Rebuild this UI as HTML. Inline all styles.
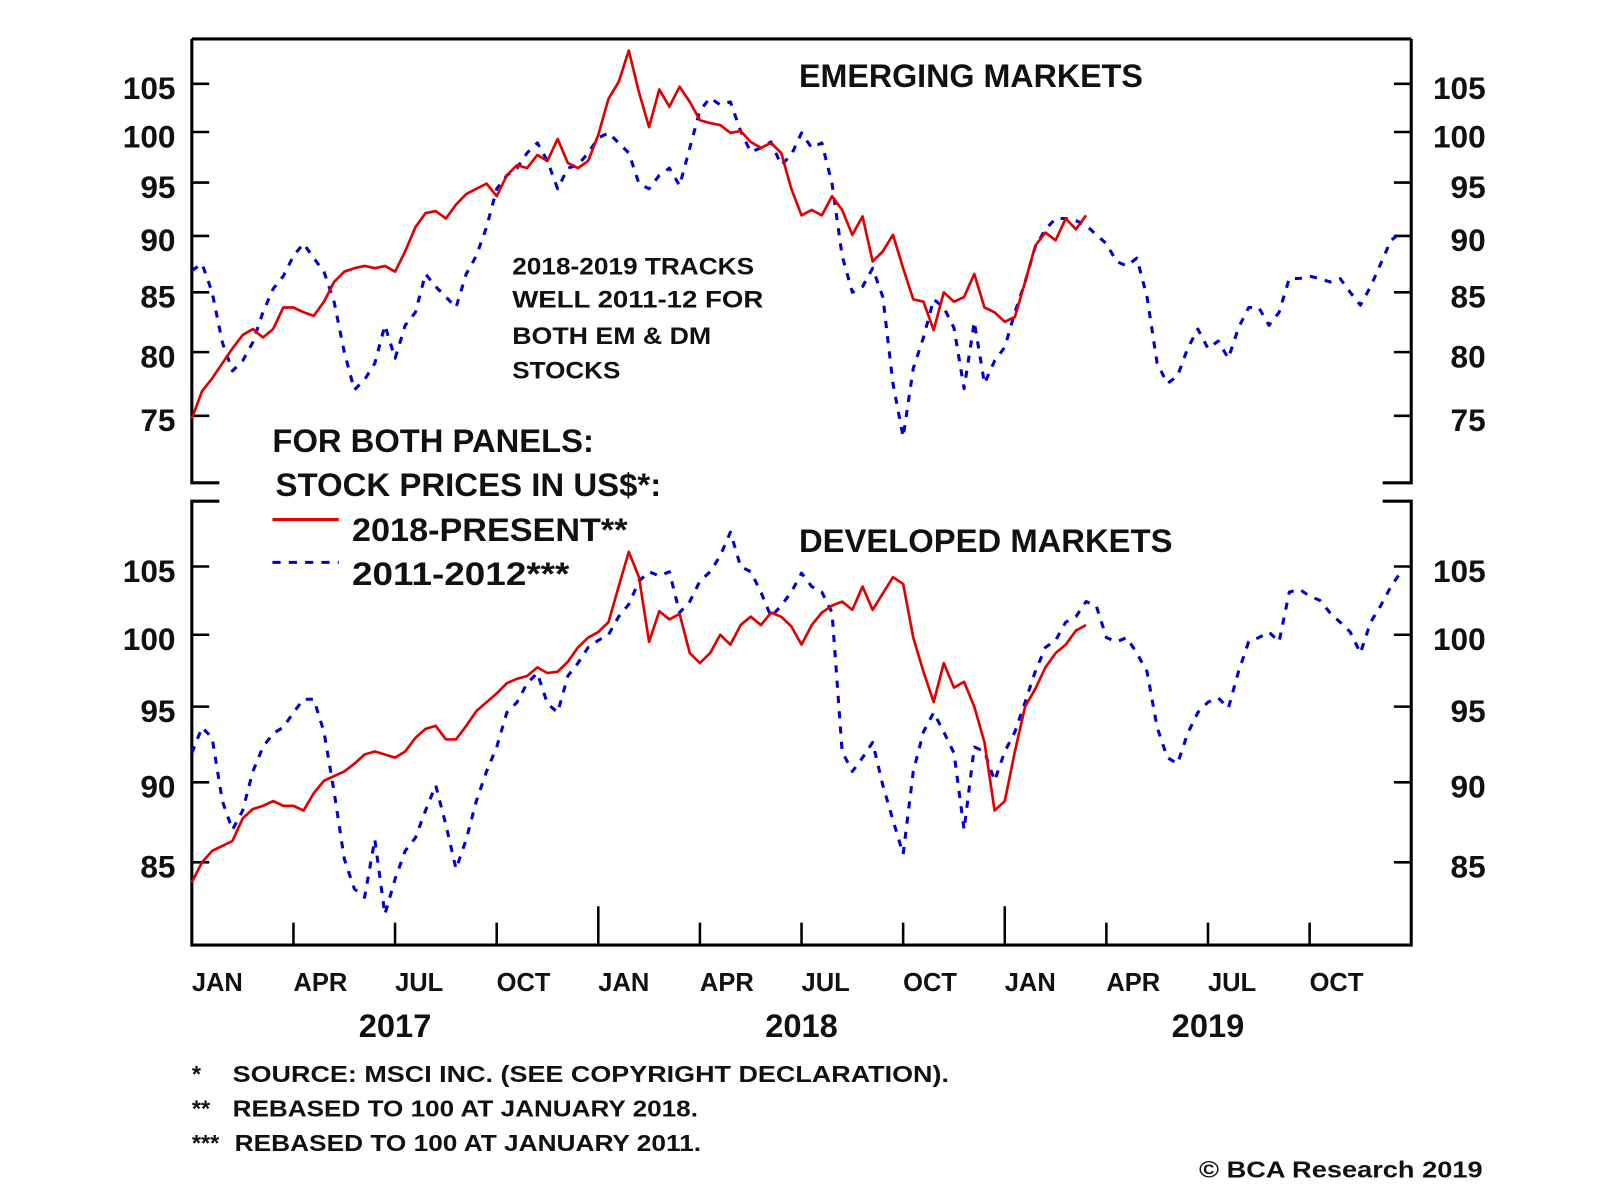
<!DOCTYPE html>
<html><head><meta charset="utf-8">
<style>
html,body{margin:0;padding:0;background:#fff;}
svg{display:block;}
text{font-family:"Liberation Sans",Arial,sans-serif;font-weight:bold;fill:#111;}
</style></head>
<body>
<svg id="chart" width="1600" height="1185" viewBox="0 0 1568 1161" xmlns="http://www.w3.org/2000/svg">
  <rect x="0" y="0" width="1568" height="1161" fill="#fff"/>
  <g id="frames" stroke="#000" stroke-width="3" fill="none">
    <path d="M188,38 L1383,38 M188,38 L188,473 L215,473 M1383,38 L1383,473 L1355,473"/>
    <path d="M215,491 L188,491 L188,926 L1383,926 L1383,491 L1355,491"/>
  </g>
  <g id="ticks" stroke="#000" stroke-width="2.5"></g>
  <g id="labels"></g>
  <g id="series"></g>

  <text x="783" y="85" font-size="32" textLength="337" lengthAdjust="spacingAndGlyphs">EMERGING MARKETS</text>
  <text x="783" y="541" font-size="32" textLength="366" lengthAdjust="spacingAndGlyphs">DEVELOPED MARKETS</text>
  <g font-size="24">
    <text x="502" y="269" textLength="237" lengthAdjust="spacingAndGlyphs">2018-2019 TRACKS</text>
    <text x="502" y="301" textLength="246" lengthAdjust="spacingAndGlyphs">WELL 2011-12 FOR</text>
    <text x="502" y="337" textLength="195" lengthAdjust="spacingAndGlyphs">BOTH EM &amp; DM</text>
    <text x="502" y="371" textLength="106" lengthAdjust="spacingAndGlyphs">STOCKS</text>
  </g>
  <g>
    <text x="267" y="443" font-size="32" textLength="315" lengthAdjust="spacingAndGlyphs">FOR BOTH PANELS:</text>
    <text x="270" y="486" font-size="32" textLength="378" lengthAdjust="spacingAndGlyphs">STOCK PRICES IN US$*:</text>
    <line x1="267" y1="509" x2="332" y2="509" stroke="#e00000" stroke-width="3"/>
    <text x="345" y="530" font-size="32" textLength="270" lengthAdjust="spacingAndGlyphs">2018-PRESENT**</text>
    <line x1="267" y1="551" x2="332" y2="551" stroke="#0000d0" stroke-width="3" stroke-dasharray="8,8"/>
    <text x="345" y="573" font-size="32" textLength="213" lengthAdjust="spacingAndGlyphs">2011-2012***</text>
  </g>
  <g font-size="23">
    <text x="188" y="1060">*</text>
    <text x="228" y="1060" textLength="702" lengthAdjust="spacingAndGlyphs">SOURCE: MSCI INC. (SEE COPYRIGHT DECLARATION).</text>
    <text x="188" y="1094">**</text>
    <text x="228" y="1094" textLength="456" lengthAdjust="spacingAndGlyphs">REBASED TO 100 AT JANUARY 2018.</text>
    <text x="188" y="1128">***</text>
    <text x="230" y="1128" textLength="457" lengthAdjust="spacingAndGlyphs">REBASED TO 100 AT JANUARY 2011.</text>
    <text x="1453" y="1154" text-anchor="end" font-size="23" textLength="278" lengthAdjust="spacingAndGlyphs">© BCA Research 2019</text>
  </g>
</svg>
<script>
// ---- data ----
const monthsPerStep = 0.3;
const emTicks = [105, 100, 95, 90, 85, 80, 75];
const dmTicks = [105, 100, 95, 90, 85];
const monthLabels = ["JAN","APR","JUL","OCT","JAN","APR","JUL","OCT","JAN","APR","JUL","OCT"];
const yearLabels = ["2017","2018","2019"];
const emRed = [74.8,76.9,77.9,79.1,80.3,81.4,81.9,81.2,81.9,83.7,83.7,83.3,83.0,84.2,85.9,86.8,87.1,87.3,87.1,87.3,86.8,88.6,90.8,92.1,92.3,91.6,92.9,93.9,94.4,94.9,93.7,95.7,96.7,96.4,97.7,97.1,99.3,96.9,96.4,97.1,99.7,103.4,105.2,108.6,104.1,100.5,104.4,102.6,104.7,103.1,101.2,100.9,100.7,99.9,100.1,99.0,98.4,98.9,97.9,94.4,91.9,92.4,91.9,93.7,92.4,90.1,91.8,87.7,88.6,90.1,87.1,84.4,84.2,81.8,85.0,84.2,84.6,86.6,83.7,83.3,82.5,82.9,85.9,89.1,90.3,89.6,91.6,90.6,91.9];
const emBlue = [86.9,87.5,85.0,80.8,78.5,79.3,80.8,83.3,85.3,86.4,88.2,89.3,88.0,86.8,84.2,80.0,77.0,77.8,79.1,82.2,79.5,82.2,83.3,86.6,85.5,84.6,83.7,86.6,88.2,90.8,94.4,95.7,96.4,97.9,98.9,97.1,94.4,96.4,96.7,97.9,99.4,99.9,98.9,97.9,94.9,94.4,95.7,96.4,94.7,98.4,102.2,103.5,102.8,103.1,100.1,98.0,98.4,99.0,96.7,97.7,99.9,98.4,98.9,94.9,88.2,85.0,85.5,87.1,84.6,77.5,73.4,78.7,81.2,84.4,83.7,82.0,77.1,82.5,77.5,79.3,80.4,83.3,85.9,89.0,90.6,91.6,91.6,91.4,91.0,90.1,89.3,87.7,87.3,88.0,84.6,79.1,77.5,78.1,80.3,81.9,80.3,80.9,79.5,82.0,83.7,83.7,82.2,83.3,86.2,86.2,86.4,86.2,85.9,86.2,85.0,83.9,85.5,87.5,89.6,90.3];
const dmRed = [83.8,85.0,85.7,86.0,86.3,87.7,88.3,88.5,88.8,88.5,88.5,88.2,89.3,90.1,90.4,90.7,91.2,91.8,92.0,91.8,91.6,92.0,92.9,93.5,93.7,92.8,92.8,93.7,94.7,95.3,95.9,96.6,96.9,97.1,97.7,97.3,97.4,98.1,99.1,99.8,100.2,100.9,103.5,106.1,104.2,99.5,101.7,101.1,101.5,98.7,98.0,98.7,100.0,99.3,100.7,101.3,100.7,101.6,101.3,100.6,99.3,100.7,101.6,102.1,102.4,101.8,103.5,101.8,103.0,104.2,103.7,99.8,97.4,95.3,98.0,96.3,96.7,95.0,92.6,88.2,88.8,92.0,95.0,96.2,97.7,98.7,99.3,100.3,100.7];
const dmBlue = [91.9,93.6,92.9,88.8,87.0,88.2,90.7,92.3,93.2,93.6,94.6,95.5,95.5,93.3,89.4,85.2,83.4,82.9,86.4,81.9,84.0,85.7,86.5,88.2,89.8,87.3,84.6,86.4,88.8,90.7,92.3,94.6,95.3,96.6,97.3,95.2,94.6,97.1,98.0,99.1,99.6,100.0,101.3,102.2,103.9,104.6,104.3,104.6,101.6,102.4,103.9,104.6,105.8,107.6,105.0,104.6,103.1,101.3,102.1,103.1,104.5,103.5,103.1,101.6,92.0,90.7,91.6,92.6,89.8,87.6,85.5,90.7,93.3,94.6,93.3,91.9,87.0,92.3,92.0,90.1,92.0,93.3,95.3,97.4,99.1,99.6,100.9,101.3,102.4,102.1,99.8,99.5,99.8,98.7,97.4,93.6,91.6,91.2,93.2,94.6,95.3,95.6,94.9,97.4,99.5,99.8,100.2,99.5,103.1,103.3,102.8,102.5,101.6,100.9,100.2,98.7,100.9,102.1,103.5,104.6];

// ---- scales ----
const X0 = 188, X1 = 1383, TOTAL_MONTHS = 36;
function xScale(m){ return X0 + (X1 - X0) * m / TOTAL_MONTHS; }
function emY(v){ return 82 + (Math.log(105) - Math.log(v)) * 967; }
function dmY(v){ return 555 + (Math.log(105) - Math.log(v)) * 1372; }
const NS = "http://www.w3.org/2000/svg";
function mk(tag, attrs, parent){ const e=document.createElementNS(NS,tag); for(const k in attrs) e.setAttribute(k,attrs[k]); parent.appendChild(e); return e; }

const ticksG = document.getElementById('ticks');
const labelsG = document.getElementById('labels');
const seriesG = document.getElementById('series');

function yAxis(ticks, sc, prefix){
  ticks.forEach(t=>{
    const y = sc(t);
    const l1 = mk('line',{x1:188,y1:y,x2:205,y2:y},ticksG);
    
    
    const l2 = mk('line',{x1:1366,y1:y,x2:1383,y2:y},ticksG);
    
    
    const a = mk('text',{x:172,y:y+15,'font-size':31,'text-anchor':'end'},labelsG);
    a.textContent = t;
    
    
    const b = mk('text',{x:1456,y:y+15,'font-size':31,'text-anchor':'end'},labelsG);
    b.textContent = t;
    
    
  });
}
yAxis(emTicks, emY, 'em');
yAxis(dmTicks, dmY, 'dm');

for(let q=1;q<12;q++){
  const x = xScale(q*3);
  const yr = q%4===0;
  const t = mk('line',{x1:x,y1:926,x2:x,y2:yr?888:904},ticksG);
  
  
}
monthLabels.forEach((m,q)=>{
  const t = mk('text',{x:xScale(q*3),y:971,'font-size':25},labelsG);
  t.textContent = m;
  
  
});
yearLabels.forEach((yv,i)=>{
  const t = mk('text',{x:xScale(i*12+6),y:1016,'font-size':32,'text-anchor':'middle'},labelsG);
  t.textContent = yv;
  
  
});

function line(vals, sc, color, dashed, name){
  const d = vals.map((v,i)=>(i?'L':'M')+xScale(i*monthsPerStep).toFixed(1)+','+sc(v).toFixed(1)).join(' ');
  const p = mk('path',{d:d,fill:'none',stroke:color,'stroke-width':dashed?3:2.6,'stroke-linejoin':'round'},seriesG);
  if(dashed) p.setAttribute('stroke-dasharray','7,8');
  
  
}
line(emBlue, emY, '#0000d0', true, 'em-2011-2012-line');
line(emRed, emY, '#e00000', false, 'em-2018-present-line');
line(dmBlue, dmY, '#0000d0', true, 'dm-2011-2012-line');
line(dmRed, dmY, '#e00000', false, 'dm-2018-present-line');
</script>
</body></html>
